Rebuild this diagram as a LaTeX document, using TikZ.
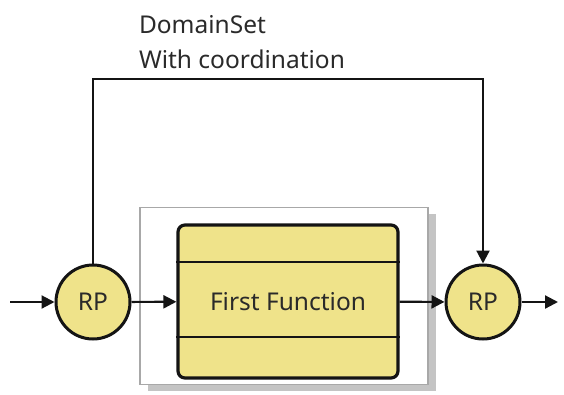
\documentclass[tikz,border=0pt]{standalone}
\usepackage{fontspec}
\setmainfont{Noto Sans}
\usetikzlibrary{arrows.meta, positioning, calc}
\definecolor{cyellow}{HTML}{EFE38A}
\definecolor{cframe}{HTML}{A8A8A8}
\definecolor{cshadow}{HTML}{C4C4C4}
\definecolor{cline}{HTML}{141414}
\definecolor{ctext}{HTML}{2A2A2A}
\tikzset{
  every picture/.style={font=\fontsize{24.5}{35}\selectfont, line width=2pt, text=ctext},
  rp/.style={circle, draw=cline, fill=cyellow, line width=3pt, minimum size=74pt, inner sep=0pt},
  func/.style={draw=cline, fill=cyellow, rounded corners=7pt, line width=3.2pt, minimum width=220pt, minimum height=153pt},
  frame/.style={draw=cframe, fill=white, line width=1.5pt, minimum width=288pt, minimum height=177pt},
  link/.style={draw=cline, line width=2.2pt, -{Triangle[length=13pt, width=13pt]}},
  note/.style={align=left, anchor=south west, inner sep=0pt},
}
\begin{document}
\begin{tikzpicture}[x=1pt, y=-1pt]
  \useasboundingbox (0,0) rectangle (564,394);
  % stacked frame round the function
  \node[frame, draw=none, fill=cshadow] (shadow) at (292,302) {};
  \node[frame] (box) at (284,296) {};
  \node[func] (fn) at (288,301.5) {First Function};
  \foreach \f in {0.25, 0.73}
    \draw[cline, line width=2pt] ($(fn.north west)!\f!(fn.south west)$) -- ($(fn.north east)!\f!(fn.south east)$);
  % the two routing points
  \node[rp] (rpin) at (93,302) {RP};
  \node[rp] (rpout) at (483,302) {RP};
  \coordinate (start) at (10,302);
  \coordinate (stop) at (558,302);
  \coordinate (top) at (93,79);
  \draw[link] (start) -- (rpin);
  \draw[link] (rpin) -- (fn);
  \draw[link] (fn) -- (rpout);
  \draw[link] (rpout) -- (stop);
  \draw[link] (rpin.north) -- (top) -| (rpout.north);
  \node[note] (lbl) at (138,70) {DomainSet\\With coordination};
\end{tikzpicture}
\end{document}
